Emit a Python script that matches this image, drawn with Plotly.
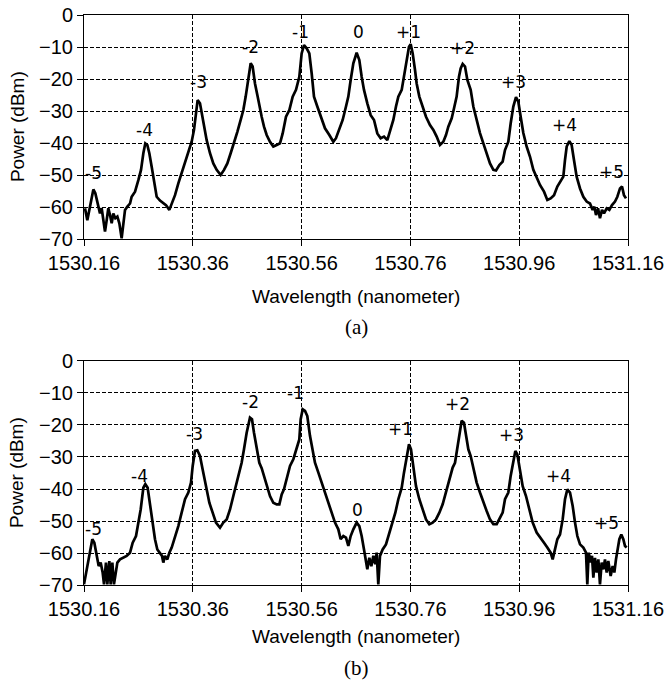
import plotly.graph_objects as go
from plotly.subplots import make_subplots

BASE = 1530.16  # nm, left edge of the wavelength axis

# ---- (a) spectrum: wavelength offset from 1530.16 nm, power in dBm ----
a_off = [0.0018, 0.0061, 0.0098, 0.0141, 0.0172, 0.0208, 0.0245, 0.0294, 0.0325, 0.0355,
         0.0386, 0.0417, 0.0447, 0.0478, 0.0509, 0.0539, 0.0576, 0.0613, 0.0650, 0.0692,
         0.0723, 0.0754, 0.0797, 0.0846, 0.0876, 0.0938, 0.0999, 0.1048, 0.1091, 0.1127,
         0.1164, 0.1201, 0.1244, 0.1287, 0.1336, 0.1397, 0.1458, 0.1507, 0.1569, 0.1612,
         0.1673, 0.1734, 0.1795, 0.1857, 0.1918, 0.1979, 0.2022, 0.2053, 0.2089, 0.2132,
         0.2163, 0.2206, 0.2255, 0.2316, 0.2377, 0.2439, 0.2512, 0.2574, 0.2635, 0.2696,
         0.2757, 0.2819, 0.2880, 0.2929, 0.2972, 0.3021, 0.3064, 0.3100, 0.3143, 0.3192,
         0.3235, 0.3266, 0.3309, 0.3358, 0.3419, 0.3480, 0.3542, 0.3603, 0.3652, 0.3713,
         0.3775, 0.3836, 0.3897, 0.3958, 0.4001, 0.4044, 0.4093, 0.4142, 0.4185, 0.4228,
         0.4289, 0.4351, 0.4430, 0.4510, 0.4583, 0.4632, 0.4694, 0.4755, 0.4816, 0.4859,
         0.4902, 0.4951, 0.5012, 0.5061, 0.5104, 0.5147, 0.5208, 0.5270, 0.5331, 0.5392,
         0.5453, 0.5515, 0.5576, 0.5637, 0.5686, 0.5735, 0.5778, 0.5840, 0.5882, 0.5931,
         0.5974, 0.6005, 0.6042, 0.6085, 0.6115, 0.6164, 0.6225, 0.6287, 0.6360, 0.6422,
         0.6483, 0.6544, 0.6605, 0.6654, 0.6697, 0.6759, 0.6801, 0.6850, 0.6893, 0.6924,
         0.6961, 0.7004, 0.7047, 0.7108, 0.7157, 0.7218, 0.7279, 0.7341, 0.7402, 0.7463,
         0.7525, 0.7574, 0.7635, 0.7696, 0.7739, 0.7800, 0.7843, 0.7892, 0.7941, 0.7984,
         0.8027, 0.8076, 0.8137, 0.8199, 0.8260, 0.8321, 0.8382, 0.8456, 0.8517, 0.8578,
         0.8640, 0.8701, 0.8762, 0.8811, 0.8842, 0.8873, 0.8922, 0.8964, 0.9007, 0.9056,
         0.9118, 0.9179, 0.9240, 0.9301, 0.9350, 0.9381, 0.9412, 0.9449, 0.9485, 0.9522,
         0.9559, 0.9608, 0.9657, 0.9706, 0.9761, 0.9804, 0.9853, 0.9890, 0.9926, 0.9963]
a_pow = [-60.4, -64.1, -60.9, -56.8, -54.5, -55.7, -58.9, -62.0, -60.4, -63.5,
         -67.7, -64.1, -60.4, -62.5, -65.1, -62.0, -63.5, -63.0, -65.1, -69.8,
         -65.1, -60.9, -59.9, -58.9, -56.8, -55.2, -51.6, -48.4, -43.2, -40.1,
         -40.6, -43.2, -47.4, -51.6, -56.8, -58.0, -58.9, -59.4, -60.9, -58.9,
         -56.3, -52.6, -49.5, -46.4, -43.2, -39.6, -35.9, -30.7, -26.6, -27.6,
         -30.7, -34.9, -39.1, -43.2, -46.4, -48.4, -50.0, -48.4, -46.4, -43.2,
         -40.1, -36.5, -32.8, -29.7, -25.5, -20.3, -15.1, -16.1, -21.4, -25.5,
         -29.7, -31.8, -34.9, -37.5, -39.6, -41.1, -40.6, -40.1, -37.0, -31.8,
         -29.7, -25.5, -23.4, -19.3, -12.0, -9.4, -10.4, -12.0, -18.2, -25.5,
         -28.6, -31.8, -35.4, -37.5, -39.6, -38.5, -35.9, -32.8, -28.6, -25.5,
         -20.3, -15.1, -11.8, -14.1, -19.3, -23.4, -27.6, -31.3, -32.8, -37.0,
         -38.5, -38.0, -39.1, -35.9, -32.8, -28.6, -25.5, -23.4, -19.3, -14.1,
         -9.9, -9.1, -12.0, -17.2, -21.4, -25.5, -28.6, -31.8, -34.4, -35.9,
         -38.0, -40.6, -39.6, -37.5, -34.9, -32.3, -29.2, -25.5, -19.3, -16.7,
         -15.3, -16.1, -20.3, -23.4, -28.6, -32.8, -36.9, -40.1, -43.2, -46.4,
         -48.4, -48.6, -46.9, -45.8, -42.2, -39.6, -33.9, -28.6, -25.7, -27.1,
         -31.8, -36.9, -41.1, -44.3, -48.4, -51.0, -53.1, -55.2, -57.8, -57.3,
         -56.3, -53.6, -52.1, -50.5, -45.3, -41.1, -39.4, -40.6, -45.3, -50.5,
         -54.2, -56.8, -58.3, -58.9, -60.9, -59.9, -62.5, -60.4, -63.5, -60.9,
         -62.0, -60.4, -60.9, -59.4, -58.3, -56.8, -54.2, -53.6, -56.3, -57.3]

# ---- (b) spectrum ----
b_off = [0.0000, 0.0037, 0.0080, 0.0123, 0.0153, 0.0190, 0.0233, 0.0270, 0.0306, 0.0343,
         0.0368, 0.0404, 0.0429, 0.0466, 0.0490, 0.0521, 0.0551, 0.0588, 0.0613, 0.0662,
         0.0723, 0.0784, 0.0846, 0.0895, 0.0956, 0.0999, 0.1042, 0.1091, 0.1127, 0.1170,
         0.1213, 0.1262, 0.1305, 0.1348, 0.1397, 0.1434, 0.1458, 0.1489, 0.1532, 0.1569,
         0.1612, 0.1673, 0.1734, 0.1795, 0.1857, 0.1918, 0.1967, 0.1998, 0.2040, 0.2083,
         0.2132, 0.2181, 0.2243, 0.2304, 0.2365, 0.2426, 0.2500, 0.2561, 0.2623, 0.2684,
         0.2745, 0.2806, 0.2855, 0.2898, 0.2941, 0.2990, 0.3051, 0.3088, 0.3125, 0.3174,
         0.3223, 0.3266, 0.3309, 0.3358, 0.3419, 0.3480, 0.3542, 0.3591, 0.3634, 0.3676,
         0.3725, 0.3787, 0.3848, 0.3909, 0.3958, 0.3983, 0.4020, 0.4063, 0.4105, 0.4154,
         0.4203, 0.4246, 0.4308, 0.4369, 0.4430, 0.4491, 0.4553, 0.4614, 0.4675, 0.4718,
         0.4767, 0.4816, 0.4859, 0.4902, 0.4951, 0.5012, 0.5061, 0.5104, 0.5147, 0.5184,
         0.5208, 0.5245, 0.5282, 0.5319, 0.5355, 0.5380, 0.5410, 0.5441, 0.5490, 0.5551,
         0.5613, 0.5674, 0.5723, 0.5778, 0.5840, 0.5882, 0.5931, 0.5974, 0.6011, 0.6054,
         0.6103, 0.6164, 0.6225, 0.6287, 0.6348, 0.6409, 0.6470, 0.6532, 0.6593, 0.6636,
         0.6679, 0.6728, 0.6777, 0.6820, 0.6863, 0.6899, 0.6942, 0.6985, 0.7022, 0.7065,
         0.7108, 0.7157, 0.7218, 0.7279, 0.7341, 0.7402, 0.7463, 0.7525, 0.7586, 0.7635,
         0.7696, 0.7739, 0.7800, 0.7843, 0.7892, 0.7929, 0.7966, 0.8015, 0.8064, 0.8125,
         0.8186, 0.8248, 0.8321, 0.8382, 0.8456, 0.8517, 0.8578, 0.8615, 0.8658, 0.8701,
         0.8750, 0.8799, 0.8842, 0.8885, 0.8934, 0.8983, 0.9026, 0.9069, 0.9118, 0.9179,
         0.9228, 0.9252, 0.9277, 0.9314, 0.9338, 0.9363, 0.9393, 0.9424, 0.9455, 0.9485,
         0.9516, 0.9547, 0.9577, 0.9608, 0.9638, 0.9681, 0.9718, 0.9749, 0.9779, 0.9804,
         0.9841, 0.9877, 0.9914, 0.9945, 0.9975]
b_pow = [-69.8, -66.1, -62.0, -57.8, -55.7, -56.8, -60.9, -64.1, -63.0, -66.1,
         -69.8, -63.0, -69.8, -62.5, -69.8, -63.0, -69.8, -65.1, -63.0, -62.0,
         -61.5, -60.9, -59.9, -56.8, -54.7, -50.5, -46.4, -39.6, -38.5, -39.6,
         -45.3, -51.6, -55.7, -58.9, -59.9, -60.9, -63.0, -60.9, -62.0, -59.9,
         -58.3, -55.2, -51.6, -47.4, -43.2, -41.1, -38.0, -32.8, -28.1, -27.9,
         -29.7, -33.9, -39.1, -44.3, -47.4, -50.5, -52.1, -50.5, -49.5, -46.4,
         -42.2, -38.0, -33.9, -31.8, -27.6, -22.4, -17.7, -18.2, -22.4, -27.6,
         -31.8, -33.5, -35.9, -38.5, -42.2, -44.3, -44.8, -44.8, -41.7, -40.1,
         -36.9, -32.8, -30.7, -27.6, -24.5, -18.2, -15.1, -15.6, -17.2, -23.4,
         -27.6, -31.8, -34.9, -38.0, -41.1, -44.3, -47.4, -50.5, -52.6, -55.7,
         -54.7, -55.2, -57.8, -54.7, -52.6, -50.5, -51.6, -54.7, -58.9, -62.5,
         -65.1, -61.5, -64.1, -60.9, -63.5, -59.9, -69.8, -60.9, -58.9, -57.3,
         -53.6, -50.5, -47.4, -43.2, -39.6, -34.9, -29.7, -26.0, -27.6, -32.8,
         -39.1, -43.2, -46.4, -49.5, -51.0, -50.5, -49.5, -47.4, -44.8, -42.2,
         -39.1, -35.9, -33.3, -31.8, -26.6, -22.4, -18.7, -19.3, -23.4, -27.6,
         -29.7, -33.9, -38.0, -41.1, -44.3, -46.9, -49.5, -51.0, -51.0, -49.5,
         -47.4, -43.2, -41.1, -35.9, -30.7, -28.1, -29.2, -33.9, -39.1, -42.2,
         -46.4, -50.5, -53.6, -55.2, -56.8, -58.3, -59.9, -62.0, -58.3, -55.7,
         -54.2, -49.5, -43.2, -40.1, -41.1, -45.3, -50.5, -54.7, -57.3, -58.3,
         -59.9, -69.8, -59.9, -63.0, -60.9, -67.7, -61.5, -66.1, -62.0, -69.8,
         -63.0, -65.1, -62.0, -66.1, -62.5, -67.2, -64.1, -66.1, -62.0, -58.9,
         -55.7, -54.2, -55.7, -57.8, -58.3]

# ---- mode order labels ----
a_labels = ["-5", "-4", "-3", "-2", "-1", "0", "+1", "+2", "+3", "+4", "+5"]
a_lab_off = [0.018, 0.111, 0.210, 0.306, 0.398, 0.504, 0.597, 0.696, 0.790, 0.884, 0.970]
a_lab_pow = [-49.4, -35.9, -20.8, -10.1, -5.2, -5.2, -5.2, -10.4, -20.8, -34.4, -49.2]

b_labels = ["-5", "-4", "-3", "-2", "-1", "0", "+1", "+2", "+3", "+4", "+5"]
b_lab_off = [0.017, 0.102, 0.204, 0.306, 0.389, 0.502, 0.581, 0.686, 0.786, 0.873, 0.961]
b_lab_pow = [-52.6, -35.9, -22.9, -12.8, -9.9, -46.6, -21.1, -13.5, -23.2, -35.9, -50.5]

tick_vals = [1530.16, 1530.36, 1530.56, 1530.76, 1530.96, 1531.16]
tick_text = ["1530.16", "1530.36", "1530.56", "1530.76", "1530.96", "1531.16"]
panel_tags = ["(a)", "(b)"]
x_title = "Wavelength (nanometer)"
y_title = "Power (dBm)"

a_wl = [BASE + v for v in a_off]
b_wl = [BASE + v for v in b_off]

fig = make_subplots(rows=2, cols=1, vertical_spacing=0.214)

line_style = dict(color="black", width=2.7)
fig.add_trace(go.Scatter(x=a_wl, y=a_pow, mode="lines", line=line_style,
                         showlegend=False, hoverinfo="x+y"), row=1, col=1)
fig.add_trace(go.Scatter(x=b_wl, y=b_pow, mode="lines", line=line_style,
                         showlegend=False, hoverinfo="x+y"), row=2, col=1)

tick_font = dict(family="Liberation Sans, Arial, sans-serif", size=20, color="black")
for r in (1, 2):
    fig.update_xaxes(range=[1530.16, 1531.16], tickvals=tick_vals, ticktext=tick_text,
                     showgrid=True, gridcolor="black", gridwidth=1, griddash="4px,2px",
                     showline=True, linecolor="black", linewidth=1, mirror=True,
                     ticks="outside", ticklen=6, tickcolor="black", tickwidth=1,
                     tickfont=tick_font, zeroline=False, automargin=False,
                     ticklabeloverflow="allow", row=r, col=1)
    fig.update_yaxes(range=[-70, 0], dtick=10, tick0=0,
                     showgrid=True, gridcolor="black", gridwidth=1, griddash="4px,2px",
                     showline=True, linecolor="black", linewidth=1, mirror=True,
                     ticks="outside", ticklen=6, tickcolor="black", tickwidth=1,
                     tickfont=tick_font, zeroline=False, automargin=False,
                     ticklabeloverflow="allow", row=r, col=1)

label_font = dict(family="DejaVu Sans, Verdana, sans-serif", size=17, color="black")
annotations = []
for t, xo, yv in zip(a_labels, a_lab_off, a_lab_pow):
    annotations.append(dict(x=BASE + xo, y=yv, xref="x", yref="y", text=t, showarrow=False,
                            font=label_font, xanchor="center", yanchor="middle"))
for t, xo, yv in zip(b_labels, b_lab_off, b_lab_pow):
    annotations.append(dict(x=BASE + xo, y=yv, xref="x2", yref="y2", text=t, showarrow=False,
                            font=label_font, xanchor="center", yanchor="middle"))

title_font = dict(family="Liberation Sans, Arial, sans-serif", size=19, color="black")
tag_font = dict(family="Liberation Serif, Times New Roman, serif", size=21, color="black")
# axis titles and panel tags (paper coordinates)
for ymid, ytitle, ytag, tag in [(0.8035, 0.507, 0.4526, panel_tags[0]),
                                (0.1965, -0.0895, -0.1456, panel_tags[1])]:
    annotations.append(dict(x=-0.123, y=ymid, xref="paper", yref="paper", text=y_title,
                            textangle=-90, showarrow=False, font=title_font,
                            xanchor="center", yanchor="middle"))
    annotations.append(dict(x=0.5, y=ytitle, xref="paper", yref="paper", text=x_title,
                            showarrow=False, font=title_font,
                            xanchor="center", yanchor="middle"))
    annotations.append(dict(x=0.5, y=ytag, xref="paper", yref="paper", text=tag,
                            showarrow=False, font=tag_font,
                            xanchor="center", yanchor="middle"))

fig.update_layout(width=668, height=689,
                  margin=dict(l=84, r=40, t=15, b=104, autoexpand=False),
                  paper_bgcolor="white", plot_bgcolor="white",
                  annotations=annotations, showlegend=False)
fig.update_layout(yaxis=dict(domain=[0.607, 1.0]), yaxis2=dict(domain=[0.0, 0.393]))

# remove the browser's default 8px page margin so the figure fills the window exactly
fig.write_html("out.html", config={"displayModeBar": False},
               post_script="document.body.style.margin='0';document.body.style.overflow='hidden';")
